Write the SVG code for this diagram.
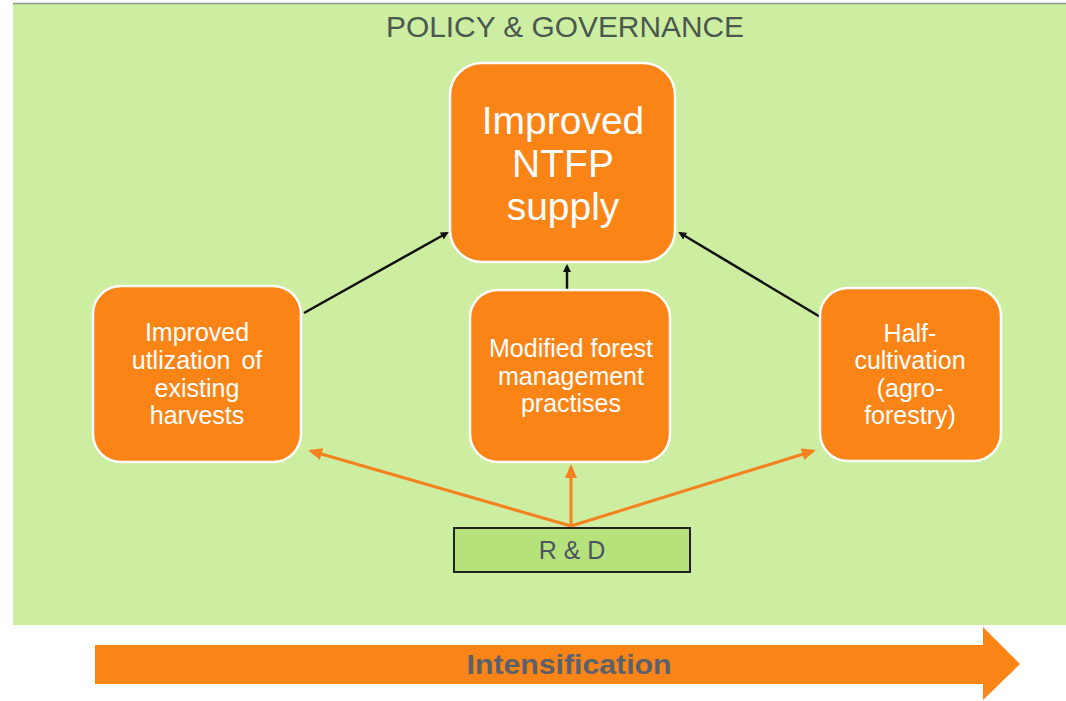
<svg xmlns="http://www.w3.org/2000/svg" width="1066" height="701" viewBox="0 0 1066 701">
<style>
.node{fill:#fb8417;stroke:#ffffff;stroke-width:2.5}
.nt{fill:#ffffff;font-family:"Liberation Sans",Arial,sans-serif;text-anchor:middle}
.blk{stroke:#111;stroke-width:2.5;fill:none}
.org{stroke:#f5821f;stroke-width:3;fill:none}
</style>
<defs>
<marker id="ab" markerWidth="8" markerHeight="8" refX="6" refY="4" orient="auto" markerUnits="userSpaceOnUse"><path d="M0,0 L8,4 L0,8 z" fill="#111"/></marker>
<marker id="ao" markerWidth="14" markerHeight="12" refX="11" refY="6" orient="auto" markerUnits="userSpaceOnUse"><path d="M0,0 L14,6 L0,12 z" fill="#f5821f"/></marker>
</defs>
<rect x="0" y="0" width="1066" height="701" fill="#ffffff"/>
<rect x="13" y="4" width="1053" height="621" fill="#cdeda0"/>
<line x1="13" y1="3.5" x2="1066" y2="3.5" stroke="#8a9a88" stroke-width="1.5"/>
<text x="565" y="37" font-family="'Liberation Sans',Arial,sans-serif" font-size="29" fill="#4a5850" text-anchor="middle" textLength="358" lengthAdjust="spacingAndGlyphs">POLICY &amp; GOVERNANCE</text>
<g id="connectors">
<line class="blk" x1="304" y1="313" x2="447" y2="233" marker-end="url(#ab)"/>
<line class="blk" x1="567" y1="289" x2="567" y2="266" marker-end="url(#ab)"/>
<line class="blk" x1="822" y1="318" x2="680" y2="233" marker-end="url(#ab)"/>
<line class="org" x1="571" y1="526" x2="311" y2="451" marker-end="url(#ao)"/>
<line class="org" x1="571" y1="526" x2="571" y2="467" marker-end="url(#ao)"/>
<line class="org" x1="571" y1="526" x2="813" y2="451" marker-end="url(#ao)"/>
</g>
<g id="top">
<rect class="node" x="450" y="63" width="225" height="199" rx="32"/>
<text class="nt" x="563" y="134" font-size="39">Improved</text>
<text class="nt" x="563" y="177" font-size="39">NTFP</text>
<text class="nt" x="563" y="220" font-size="39">supply</text>
</g>
<g id="left">
<rect class="node" x="93" y="286" width="208" height="176" rx="28"/>
<text class="nt" x="197" y="341" font-size="25">Improved</text>
<text class="nt" x="197" y="369" font-size="25" word-spacing="4">utlization of</text>
<text class="nt" x="197" y="397" font-size="25">existing</text>
<text class="nt" x="197" y="424" font-size="25">harvests</text>
</g>
<g id="middle">
<rect class="node" x="470" y="290" width="200" height="172" rx="28"/>
<text class="nt" x="571" y="357" font-size="25">Modified forest</text>
<text class="nt" x="571" y="385" font-size="25">management</text>
<text class="nt" x="571" y="412" font-size="25">practises</text>
</g>
<g id="right">
<rect class="node" x="820" y="288" width="181" height="173" rx="28"/>
<text class="nt" x="910" y="342" font-size="25">Half-</text>
<text class="nt" x="910" y="369" font-size="25">cultivation</text>
<text class="nt" x="910" y="397" font-size="25">(agro-</text>
<text class="nt" x="910" y="424" font-size="25">forestry)</text>
</g>
<g id="rd">
<rect x="454" y="528" width="236" height="44" fill="#b6e27c" stroke="#222" stroke-width="2"/>
<text x="572" y="559" font-family="'Liberation Sans',Arial,sans-serif" font-size="25" fill="#4a5560" text-anchor="middle">R &amp; D</text>
</g>
<g id="intensification">
<path d="M95,645 L983,645 L983,627 L1020,664 L983,700 L983,684 L95,684 z" fill="#fb8417"/>
<text x="569" y="674" font-family="'Liberation Sans',Arial,sans-serif" font-weight="bold" font-size="27" fill="#59626c" text-anchor="middle" textLength="205" lengthAdjust="spacingAndGlyphs">Intensification</text>
</g>
</svg>
